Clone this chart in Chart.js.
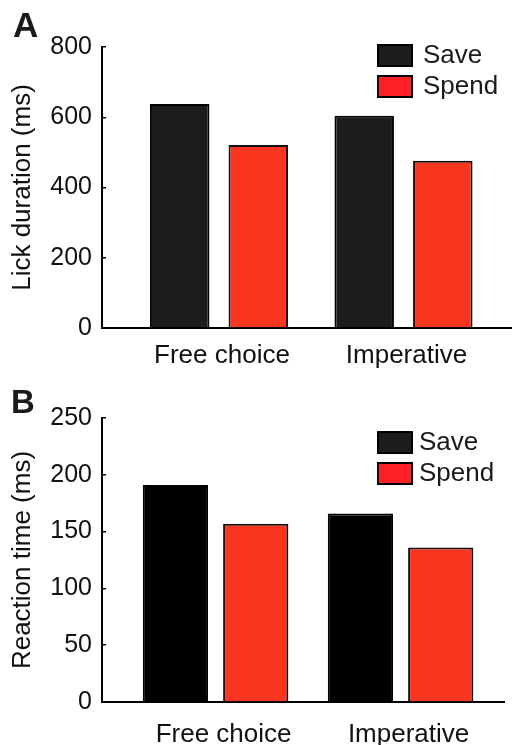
<!DOCTYPE html>
<html>
<head>
<meta charset="utf-8">
<script src="https://cdn.jsdelivr.net/npm/chart.js@4.4.1/dist/chart.umd.min.js"></script>
<style>
  html, body { margin: 0; padding: 0; background: #fff; }
  .panel { position: relative; width: 512px; }
  #panelA { height: 372px; }
  #panelB { height: 373px; }
</style>
</head>
<body>
<div class="panel" id="panelA"><canvas id="chartA"></canvas></div>
<div class="panel" id="panelB"><canvas id="chartB"></canvas></div>
<script>
const categories = ["Free choice", "Imperative"];
const seriesNames = ["Save", "Spend"];
const lickSave = [638, 604];
const lickSpend = [521, 476];
const lickTicks = [0, 200, 400, 600, 800];
const rtSave = [191, 166];
const rtSpend = [157, 136];
const rtTicks = [0, 50, 100, 150, 200, 250];

Chart.defaults.font.family = "'Liberation Sans', Arial, sans-serif";
Chart.defaults.color = "#111";

// panel letter + legend box drawn inside the plot area, like the figure
const panelDecor = {
  id: "panelDecor",
  afterDraw(chart, args, opts) {
    const ctx = chart.ctx;
    ctx.save();
    ctx.fillStyle = "#1a1a1a";
    ctx.textBaseline = "alphabetic";
    ctx.font = "bold " + opts.letterSize + "px 'Liberation Sans', Arial, sans-serif";
    ctx.fillText(opts.letter, opts.letterX, opts.letterY);

    ctx.font = "26px 'Liberation Sans', Arial, sans-serif";
    ctx.textBaseline = "middle";
    chart.data.datasets.forEach((ds, i) => {
      const y = opts.legendY + i * opts.legendGap;
      ctx.fillStyle = opts.legendColors[i];
      ctx.fillRect(opts.legendX, y, 36, 23);
      ctx.lineWidth = 2;
      ctx.strokeStyle = "#000";
      ctx.strokeRect(opts.legendX + 1, y + 1, 34, 21);
      ctx.fillStyle = "#1a1a1a";
      ctx.fillText(ds.label, opts.legendX + 36 + opts.textGap, y + 12);
    });
    ctx.restore();
  }
};

function makeChart(id, cfg) {
  return new Chart(document.getElementById(id), {
    type: "bar",
    data: {
      datasets: [
        {
          label: seriesNames[0],
          data: cfg.save.map((v, i) => ({ x: i + 1, y: v })),
          backgroundColor: cfg.saveColor,
          borderColor: "#000",
          borderWidth: 2
        },
        {
          label: seriesNames[1],
          data: cfg.spend.map((v, i) => ({ x: i + 1, y: v })),
          backgroundColor: "#fa3520",
          borderColor: "#111",
          borderWidth: 2
        }
      ]
    },
    options: {
      responsive: true,
      maintainAspectRatio: false,
      animation: false,
      datasets: { bar: { categoryPercentage: cfg.cp, barPercentage: cfg.bp } },
      layout: { padding: { top: cfg.top, left: 0, right: cfg.right, bottom: 0 } },
      plugins: {
        legend: { display: false },
        tooltip: { enabled: false },
        panelDecor: cfg.decor
      },
      scales: {
        x: {
          type: "linear",
          min: cfg.xmin,
          max: cfg.xmax,
          offset: false,
          grid: { display: false, drawTicks: false },
          border: { display: true, color: "#000", width: 2 },
          afterBuildTicks: (s) => { s.ticks = categories.map((c, i) => ({ value: i + 1 })); },
          afterFit: (s) => { s.height = cfg.xh; },
          ticks: {
            callback: (v) => categories[v - 1],
            font: { size: 26 },
            color: "#111",
            padding: cfg.xpad,
            labelOffset: cfg.labelOffset,
            maxRotation: 0,
            autoSkip: false
          }
        },
        y: {
          min: 0,
          max: cfg.ticks[cfg.ticks.length - 1],
          afterBuildTicks: (s) => { s.ticks = cfg.ticks.map((v) => ({ value: v })); },
          afterFit: (s) => { s.width = 102; },
          // short inward tick marks
          grid: { drawOnChartArea: false, drawTicks: true, tickLength: -4, color: "#000", lineWidth: 1.5 },
          border: { color: "#000", width: 2 },
          ticks: { font: { size: 25 }, color: "#111", padding: 14 },
          title: {
            display: true,
            text: cfg.yTitle,
            font: { size: 26 },
            color: "#111",
            padding: { top: 7, bottom: 0 }
          }
        }
      }
    },
    plugins: [panelDecor]
  });
}

makeChart("chartA", {
  save: lickSave,
  spend: lickSpend,
  ticks: lickTicks,
  yTitle: "Lick duration (ms)",
  saveColor: "#1c1c1c",
  cp: 0.852, bp: 0.757,
  xmin: 0.366, xmax: 2.588,
  top: 47, right: 0, xh: 44, xpad: 12, labelOffset: 3,
  decor: {
    letter: "A", letterSize: 35, letterX: 13, letterY: 37,
    legendX: 377, legendY: 44, legendGap: 31, textGap: 10,
    legendColors: ["#1c1c1c", "#ff1f26"]
  }
});

makeChart("chartB", {
  save: rtSave,
  spend: rtSpend,
  ticks: rtTicks,
  yTitle: "Reaction time (ms)",
  saveColor: "#000000",
  cp: 0.868, bp: 0.813,
  xmin: 0.386, xmax: 2.559,
  top: 46, right: 8, xh: 43, xpad: 17, labelOffset: 8,
  decor: {
    letter: "B", letterSize: 33, letterX: 11, letterY: 41,
    legendX: 377, legendY: 59, legendGap: 31, textGap: 6,
    legendColors: ["#1c1c1c", "#ff1f26"]
  }
});
</script>
</body>
</html>
